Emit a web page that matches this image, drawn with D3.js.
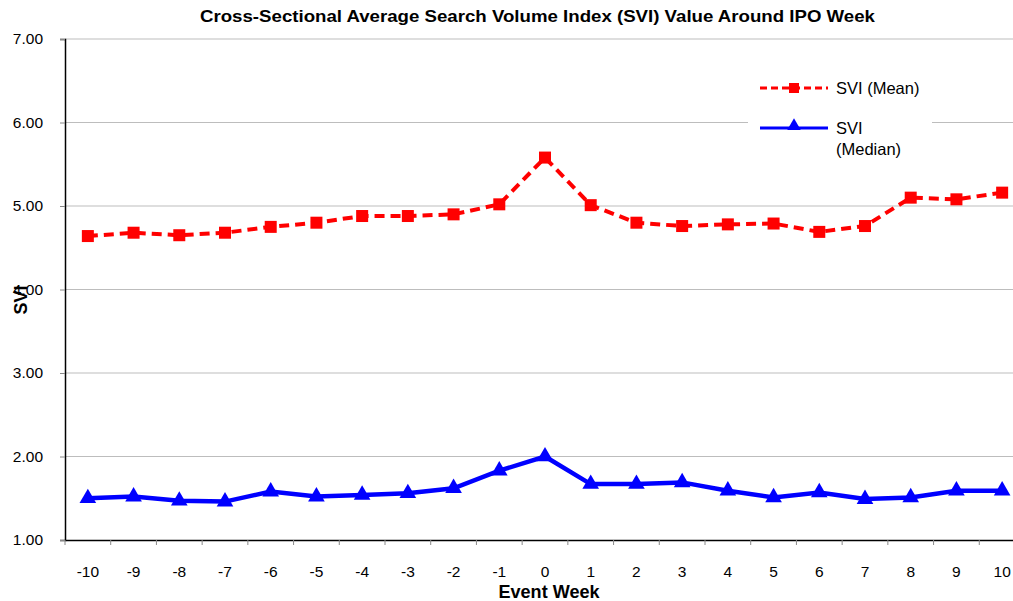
<!DOCTYPE html>
<html><head><meta charset="utf-8">
<script src="https://cdn.jsdelivr.net/npm/d3@7"></script>
<style>body{margin:0;background:#fff}svg{display:block;font-family:"Liberation Sans",Arial,sans-serif}</style>
</head><body>
<svg id="c" width="1013" height="601"></svg>
<script>
const weeks = [-10,-9,-8,-7,-6,-5,-4,-3,-2,-1,0,1,2,3,4,5,6,7,8,9,10];
const meanSVI = [4.64,4.68,4.65,4.68,4.75,4.80,4.88,4.88,4.90,5.02,5.58,5.01,4.80,4.76,4.78,4.79,4.69,4.76,5.10,5.08,5.16];
const medianSVI = [1.50,1.52,1.47,1.46,1.58,1.52,1.54,1.56,1.62,1.83,2.00,1.67,1.67,1.69,1.59,1.51,1.57,1.49,1.51,1.59,1.59];
const yTicks = [1,2,3,4,5,6,7];

const svg = d3.select("#c");
const L = 65, R = 1025, T = 39, B = 540;
const x = d3.scaleBand().domain(weeks).range([L, R]);
const y = d3.scaleLinear().domain([1, 7]).range([B, T]);
const cx = d => x(d) + x.bandwidth()/2;
const FF = "Liberation Sans, Arial, sans-serif";

// gridlines
svg.append("g").selectAll("line").data(yTicks.slice(1)).join("line")
  .attr("x1", L).attr("x2", R).attr("y1", d => y(d)).attr("y2", d => y(d))
  .attr("stroke", "#bdbdbd").attr("stroke-width", 1);

// y axis
const ya = svg.append("g").attr("transform", `translate(${L},0)`)
  .call(d3.axisLeft(y).tickValues(yTicks).tickFormat(d3.format(".2f")).tickSize(5).tickPadding(17));
ya.select(".domain").attr("stroke", "#000").attr("stroke-width", 1.5);
ya.selectAll(".tick line").attr("stroke", "#888");
ya.selectAll("text").attr("font-size", 15.5).attr("fill", "#000").attr("font-family", FF);

// x axis
const xa = svg.append("g").attr("transform", `translate(0,${B})`)
  .call(d3.axisBottom(x).tickSize(0).tickPadding(26));
xa.select(".domain").attr("stroke", "#000").attr("stroke-width", 1.5);
xa.selectAll("text").attr("font-size", 15.5).attr("fill", "#000").attr("font-family", FF);
// band boundary ticks
const bounds = weeks.map(w => x(w));
svg.append("g").selectAll("line").data(bounds).join("line")
  .attr("x1", d => d).attr("x2", d => d).attr("y1", B).attr("y2", B + 5)
  .attr("stroke", "#888");

// legend background box (covers gridline)
svg.append("rect").attr("x", 748).attr("y", 62).attr("width", 184).attr("height", 100).attr("fill", "#fff");

// mean line
const line = d3.line().x((d, i) => cx(weeks[i])).y(d => y(d));
svg.append("path").datum(meanSVI).attr("d", line).attr("fill", "none")
  .attr("stroke", "#ff0000").attr("stroke-width", 4).attr("stroke-dasharray", "10,6");
svg.append("g").selectAll("rect").data(meanSVI).join("rect")
  .attr("x", (d, i) => cx(weeks[i]) - 6).attr("y", d => y(d) - 6)
  .attr("width", 12).attr("height", 12).attr("fill", "#ff0000");

// median line
svg.append("path").datum(medianSVI).attr("d", line).attr("fill", "none")
  .attr("stroke", "#0000ff").attr("stroke-width", 4.5);
const tri = d3.symbol().type(d3.symbolTriangle).size(120);
svg.append("g").selectAll("path").data(medianSVI).join("path")
  .attr("d", tri).attr("transform", (d, i) => `translate(${cx(weeks[i])},${y(d)})`)
  .attr("fill", "#0000ff");

// legend
const lg = svg.append("g").attr("font-family", FF);
lg.append("line").attr("x1", 760).attr("x2", 828).attr("y1", 88).attr("y2", 88)
  .attr("stroke", "#ff0000").attr("stroke-width", 3).attr("stroke-dasharray", "7,4");
lg.append("rect").attr("x", 789).attr("y", 83).attr("width", 10).attr("height", 10).attr("fill", "#ff0000");
lg.append("text").attr("x", 836).attr("y", 94).attr("font-size", 16.5).text("SVI (Mean)");
lg.append("line").attr("x1", 760).attr("x2", 828).attr("y1", 128).attr("y2", 128)
  .attr("stroke", "#0000ff").attr("stroke-width", 3);
lg.append("path").attr("d", d3.symbol().type(d3.symbolTriangle).size(80)).attr("transform", "translate(794,126)").attr("fill", "#0000ff");
lg.append("text").attr("x", 836).attr("y", 134).attr("font-size", 16.5).text("SVI");
lg.append("text").attr("x", 836).attr("y", 155).attr("font-size", 16.5).text("(Median)");

// titles
svg.append("text").attr("x", 537.5).attr("y", 22).attr("text-anchor", "middle")
  .attr("font-size", 16.5).attr("font-weight", "bold")
  .attr("textLength", 675).attr("lengthAdjust", "spacingAndGlyphs")
  .text("Cross-Sectional Average Search Volume Index (SVI) Value Around IPO Week");
svg.append("text").attr("x", 549).attr("y", 598).attr("text-anchor", "middle")
  .attr("font-size", 17.5).attr("font-weight", "bold")
  .attr("textLength", 101).attr("lengthAdjust", "spacingAndGlyphs").text("Event Week");
svg.append("text").attr("transform", "translate(27,300) rotate(-90)").attr("text-anchor", "middle")
  .attr("font-size", 18).attr("font-weight", "bold").text("SVI");
</script>
</body></html>
